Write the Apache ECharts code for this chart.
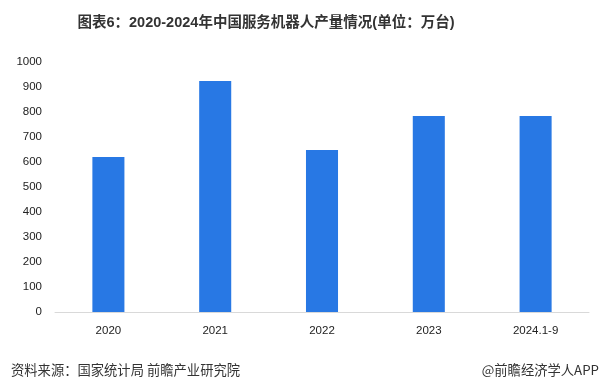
<!DOCTYPE html>
<html>
<head>
<meta charset="utf-8">
<script src="https://cdn.jsdelivr.net/npm/echarts@6/dist/echarts.min.js"></script>
<style>html,body{margin:0;padding:0;background:#fff;}#c{width:606px;height:387px;}</style>
</head>
<body>
<div id="c"></div>
<script>
const categories = ['2020', '2021', '2022', '2023', '2024.1-9'];
const production = [620, 924, 648, 784, 784];
const yTicks = [0, 100, 200, 300, 400, 500, 600, 700, 800, 900, 1000];

const chart = echarts.init(document.getElementById('c'));
chart.setOption({
  animation: false,
  title: [
    {
      text: '图表6：2020-2024年中国服务机器人产量情况(单位：万台)',
      left: 261, top: 11, textAlign: 'center',
      textStyle: { fontSize: 14.5, fontWeight: 'bold', color: '#333', fontFamily: 'Liberation Sans, Noto Sans CJK SC, sans-serif' }
    },
    {
      text: '资料来源：国家统计局 前瞻产业研究院',
      left: 6, top: 358,
      textStyle: { fontSize: 13.3, fontWeight: 'normal', color: '#333', fontFamily: 'Noto Sans CJK SC, sans-serif' }
    },
    {
      text: '@前瞻经济学人APP',
      right: 2, top: 358,
      textStyle: { fontSize: 13.3, fontWeight: 'normal', color: '#333', fontFamily: 'Noto Sans CJK SC, sans-serif' }
    }
  ],
  grid: { left: 55, right: 17, top: 62, bottom: 75, containLabel: false },
  xAxis: {
    type: 'category',
    data: categories,
    axisLine: { lineStyle: { color: '#d9d9d9' } },
    axisTick: { show: false },
    axisLabel: { color: '#222', fontSize: 11.5, margin: 13, fontFamily: 'Liberation Sans, sans-serif' }
  },
  yAxis: {
    type: 'value',
    min: yTicks[0], max: yTicks[yTicks.length - 1], interval: 100,
    splitLine: { show: false },
    axisLine: { show: false },
    axisTick: { show: false },
    axisLabel: { color: '#222', fontSize: 11.5, margin: 13, fontFamily: 'Liberation Sans, sans-serif', formatter: function (v) { return String(v); } }
  },
  series: [{
    type: 'bar',
    data: production,
    barWidth: '30%',
    itemStyle: { color: '#2878e4' }
  }]
});
</script>
</body>
</html>
